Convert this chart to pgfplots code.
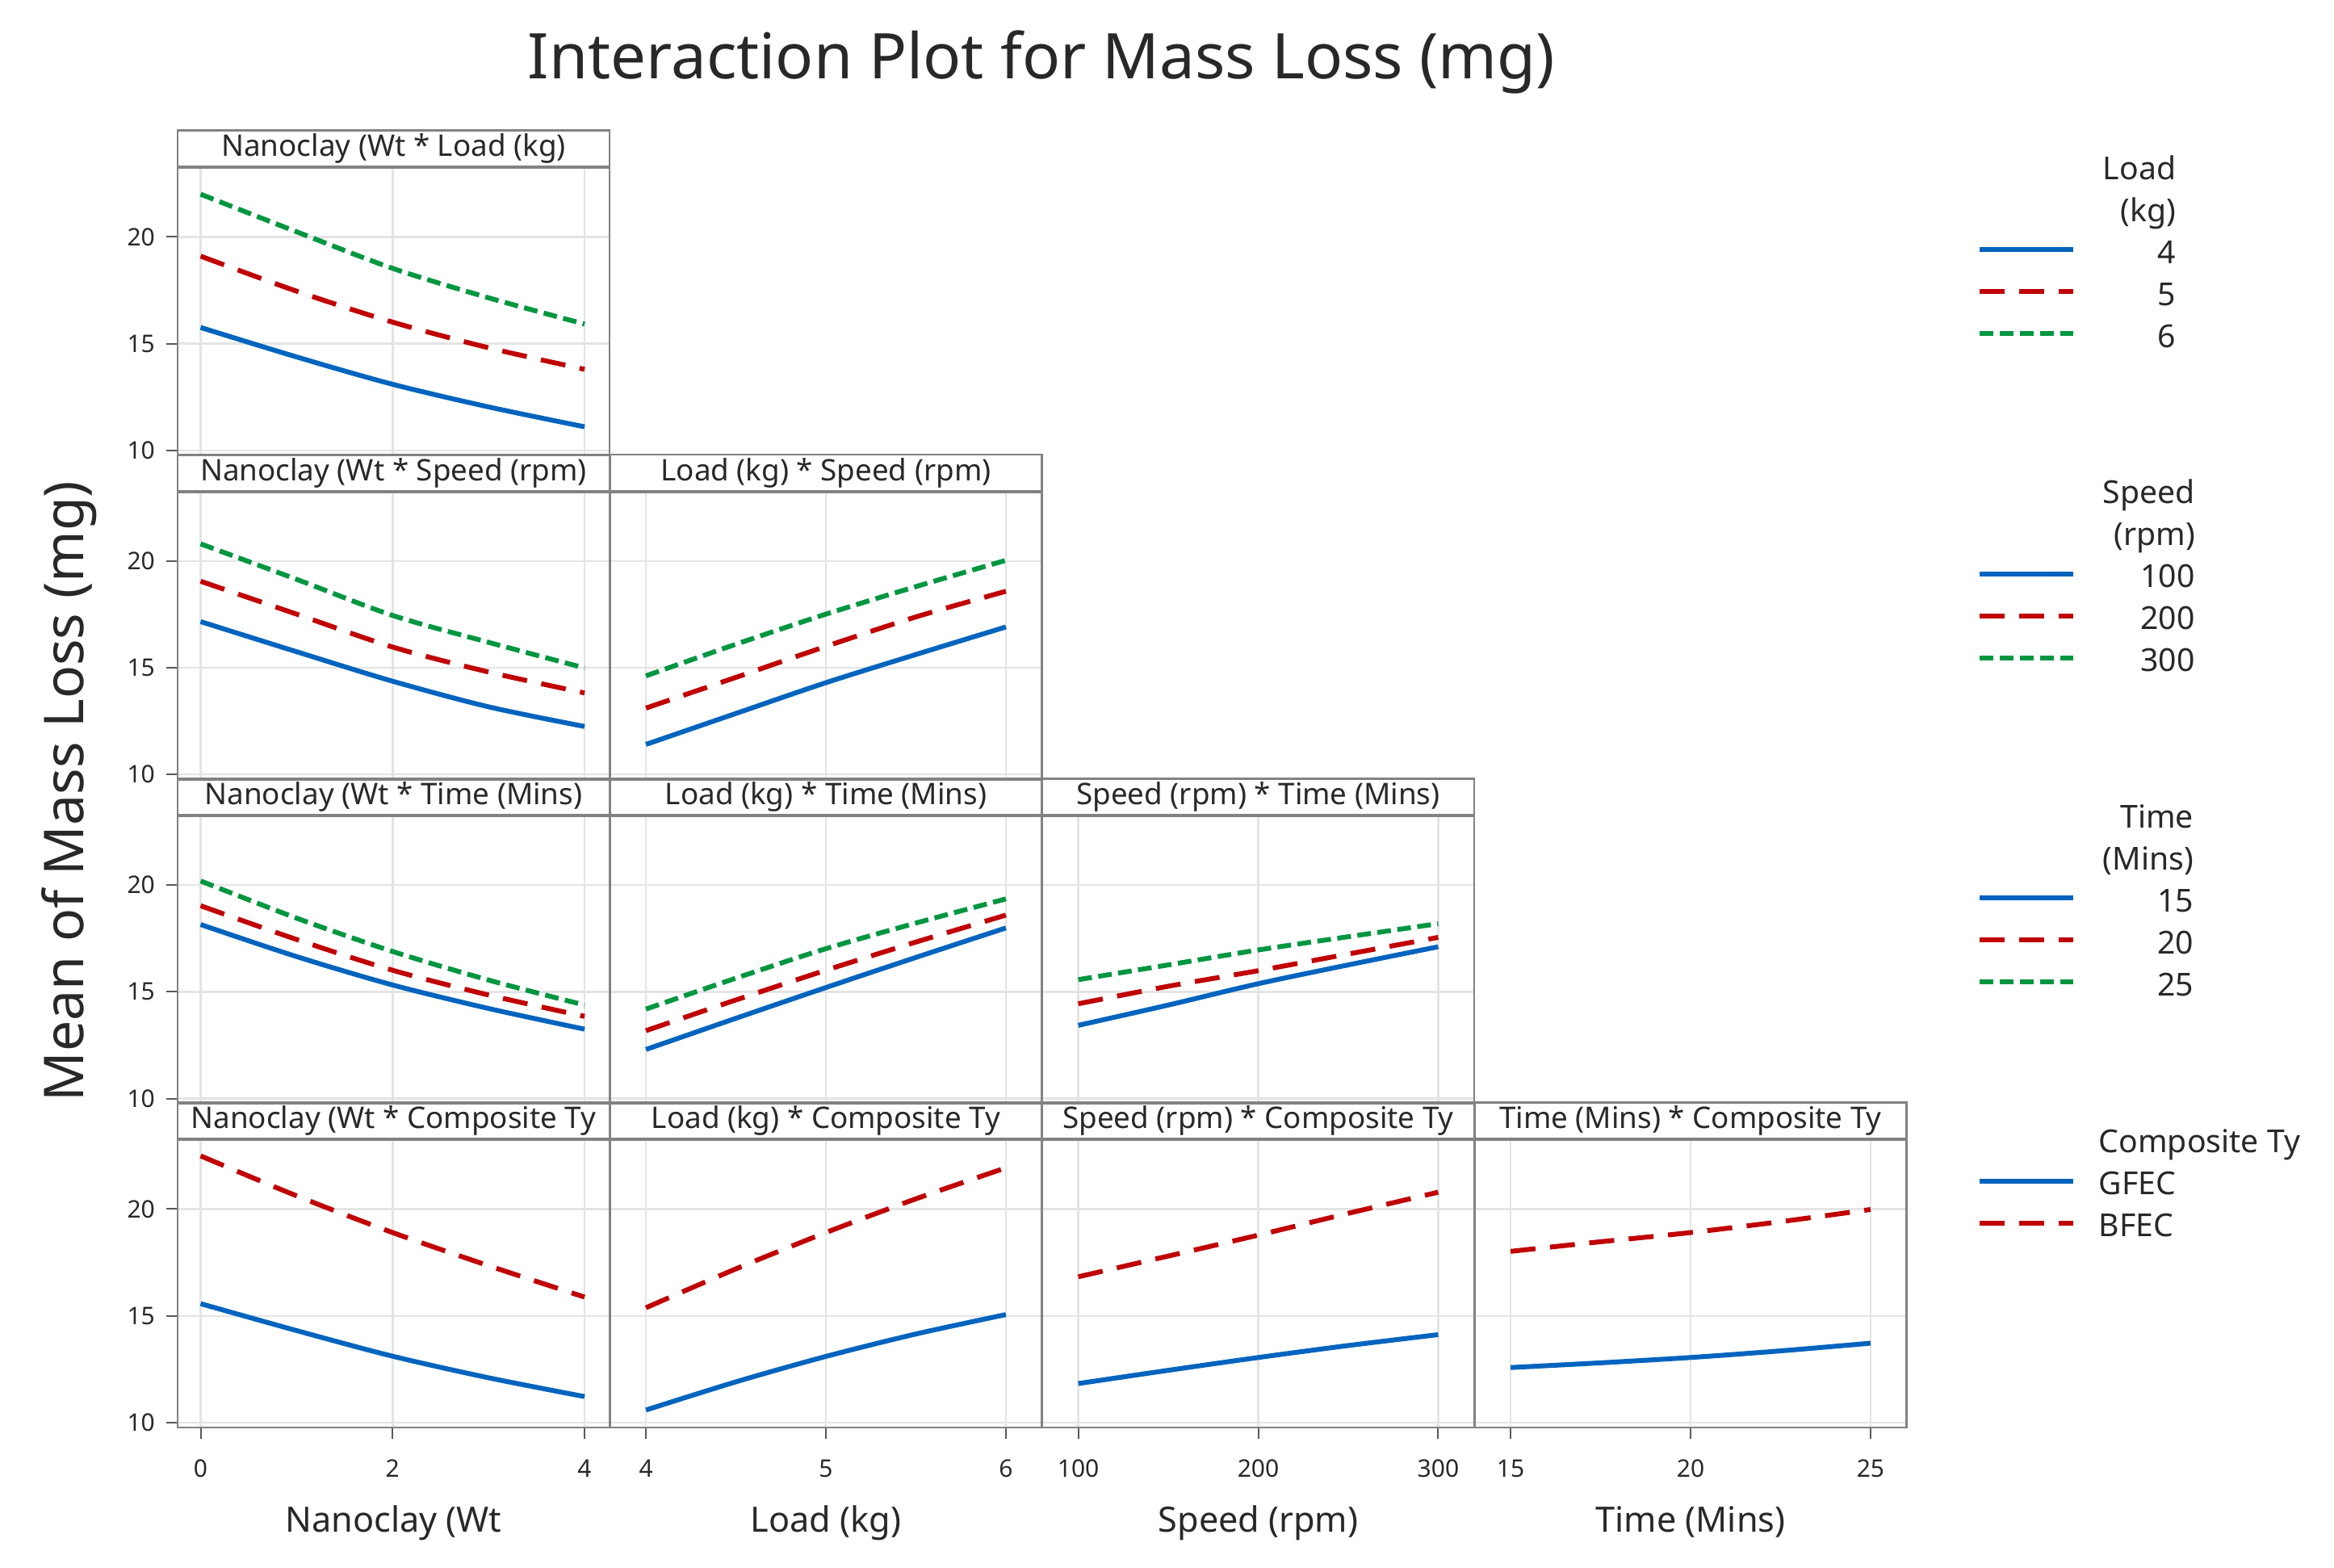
\documentclass[border=0pt]{standalone}
\usepackage{fontspec}
\setmainfont{Noto Sans}
\usepackage{pgfplots}
\pgfplotsset{compat=1.18}
\definecolor{mblue}{RGB}{0,100,190}
\definecolor{mred}{RGB}{192,0,0}
\definecolor{mgreen}{RGB}{0,150,64}
\definecolor{framegray}{RGB}{130,130,130}
\definecolor{gridgray}{RGB}{228,228,228}
\definecolor{txt}{RGB}{40,40,40}

\pgfplotsset{
  panel/.style={
    scale only axis, width=133.75pt, height=89pt,
    ymin=9.77, ymax=23.23, ytick={10,15,20},
    grid=major, major grid style={draw=gridgray, line width=0.6pt},
    axis line style={draw=framegray, line width=0.7pt},
    tick align=outside, tick pos=left,
    major tick length=3.5pt,
    every tick/.style={draw=black!65, line width=0.5pt},
    tick label style={font=\fontsize{7.5}{9}\selectfont, text=txt},
    x tick label style={yshift=-3pt},
    /pgf/number format/assume math mode=true,
    every axis title shift=0pt,
    title style={at={(0.5,1)}, anchor=south, yshift=0pt, draw=framegray, line width=0.7pt,
      minimum width=133.75pt, minimum height=11.25pt, inner sep=0pt,
      font=\fontsize{9.2}{11}\selectfont, text=txt},
    xlabel style={at={(axis description cs:0.5,0)}, anchor=base, yshift=-32.25pt,
      font=\fontsize{10.8}{13}\selectfont, text=txt},
    legend image code/.code={\draw[##1] (0pt,0.75pt) -- (29pt,0.75pt);},
  },
  c1/.style={xmin=-0.24, xmax=4.26, xtick={0,2,4}},
  c2/.style={xmin=3.8, xmax=6.2, xtick={4,5,6}},
  c3/.style={xmin=80, xmax=320, xtick={100,200,300}},
  c4/.style={xmin=14, xmax=26, xtick={15,20,25}},
  noxt/.style={xticklabels={}, xtick style={draw=none}},
  noyt/.style={yticklabels={}, ytick style={draw=none}},
  s1/.style={mblue, line width=1.5pt, solid, smooth},
  s2/.style={mred, line width=1.5pt, dash pattern=on 7.75pt off 4.5pt, smooth},
  s3/.style={mgreen, line width=1.5pt, dash pattern=on 4.25pt off 2pt, smooth},
  leg/.style={legend style={at={(0,1)}, anchor=north west, xshift=557pt, yshift=#1,
      draw=none, fill=none, inner sep=0pt, column sep=8.5pt, row sep=0pt,
      font=\fontsize{9.8}{12}\selectfont, text=txt,
      nodes={inner sep=0pt, text height=10pt, text depth=3pt}},
      legend cell align=right},
}

\begin{document}
\begin{tikzpicture}
\useasboundingbox (0pt,0pt) rectangle (722.75pt,-485.25pt);

\node[anchor=base, font=\fontsize{19.5}{23}\selectfont, text=txt] at (322.5pt,-24.25pt) {Interaction Plot for Mass Loss (mg)};
\node[rotate=90, anchor=base, font=\fontsize{17}{20}\selectfont, text=txt] at (25.75pt,-245pt) {Mean of Mass Loss (mg)};

% ---------------- Row 1 ----------------
\begin{axis}[panel, c1, noxt, leg=6.6pt, at={(55pt,-52pt)}, anchor=north west,
  title={Nanoclay (Wt * Load (kg)}]
\addlegendimage{empty legend}\addlegendentry{Load}
\addlegendimage{empty legend}\addlegendentry{(kg)}
\addplot[s1] coordinates {(0,15.76)(1,14.38)(2,13.10)(3,12.04)(4,11.11)};
\addlegendentry{4}
\addplot[s2] coordinates {(0,19.10)(1,17.46)(2,16.01)(3,14.81)(4,13.80)};
\addlegendentry{5}
\addplot[s3] coordinates {(0,22.00)(1,20.24)(2,18.53)(3,17.15)(4,15.92)};
\addlegendentry{6}
\end{axis}

% ---------------- Row 2 ----------------
\begin{axis}[panel, c1, noxt, leg=6.6pt, at={(55pt,-152.33pt)}, anchor=north west,
  title={Nanoclay (Wt * Speed (rpm)}]
\addlegendimage{empty legend}\addlegendentry{Speed}
\addlegendimage{empty legend}\addlegendentry{(rpm)}
\addplot[s1] coordinates {(0,17.16)(1,15.75)(2,14.37)(3,13.17)(4,12.25)};
\addlegendentry{100}
\addplot[s2] coordinates {(0,19.05)(1,17.51)(2,15.97)(3,14.80)(4,13.82)};
\addlegendentry{200}
\addplot[s3] coordinates {(0,20.80)(1,19.14)(2,17.45)(3,16.19)(4,14.99)};
\addlegendentry{300}
\end{axis}
\begin{axis}[panel, c2, noxt, noyt, at={(188.875pt,-152.33pt)}, anchor=north west,
  title={Load (kg) * Speed (rpm)}]
\addplot[s1] coordinates {(4,11.41)(4.5,12.86)(5,14.30)(5.5,15.62)(6,16.91)};
\addplot[s2] coordinates {(4,13.11)(4.5,14.55)(5,16.00)(5.5,17.38)(6,18.58)};
\addplot[s3] coordinates {(4,14.62)(4.5,16.10)(5,17.51)(5.5,18.80)(6,20.03)};
\end{axis}

% ---------------- Row 3 ----------------
\begin{axis}[panel, c1, noxt, leg=6.6pt, at={(55pt,-252.67pt)}, anchor=north west,
  title={Nanoclay (Wt * Time (Mins)}]
\addlegendimage{empty legend}\addlegendentry{Time}
\addlegendimage{empty legend}\addlegendentry{(Mins)}
\addplot[s1] coordinates {(0,18.15)(1,16.65)(2,15.32)(3,14.22)(4,13.25)};
\addlegendentry{15}
\addplot[s2] coordinates {(0,19.03)(1,17.45)(2,16.01)(3,14.85)(4,13.85)};
\addlegendentry{20}
\addplot[s3] coordinates {(0,20.19)(1,18.45)(2,16.89)(3,15.55)(4,14.38)};
\addlegendentry{25}
\end{axis}
\begin{axis}[panel, c2, noxt, noyt, at={(188.875pt,-252.67pt)}, anchor=north west,
  title={Load (kg) * Time (Mins)}]
\addplot[s1] coordinates {(4,12.30)(4.5,13.76)(5,15.20)(5.5,16.61)(6,17.99)};
\addplot[s2] coordinates {(4,13.18)(4.5,14.62)(5,16.01)(5.5,17.33)(6,18.59)};
\addplot[s3] coordinates {(4,14.19)(4.5,15.64)(5,17.02)(5.5,18.22)(6,19.35)};
\end{axis}
\begin{axis}[panel, c3, noxt, noyt, at={(322.75pt,-252.67pt)}, anchor=north west,
  title={Speed (rpm) * Time (Mins)}]
\addplot[s1] coordinates {(100,13.43)(150,14.38)(200,15.38)(250,16.26)(300,17.11)};
\addplot[s2] coordinates {(100,14.44)(150,15.26)(200,15.99)(250,16.77)(300,17.55)};
\addplot[s3] coordinates {(100,15.57)(150,16.26)(200,16.96)(250,17.58)(300,18.19)};
\end{axis}

% ---------------- Row 4 ----------------
\begin{axis}[panel, c1, leg=6.25pt, legend style={column sep=7.25pt}, legend cell align=left,
  at={(55pt,-353pt)}, anchor=north west,
  title={Nanoclay (Wt * Composite Ty}, xlabel={Nanoclay (Wt}]
\addlegendimage{empty legend}\addlegendentry{Composite Ty}
\addplot[s1] coordinates {(0,15.57)(1,14.31)(2,13.11)(3,12.10)(4,11.22)};
\addlegendentry{GFEC}
\addplot[s2] coordinates {(0,22.49)(1,20.62)(2,18.90)(3,17.35)(4,15.88)};
\addlegendentry{BFEC}
\end{axis}
\begin{axis}[panel, c2, noyt, at={(188.875pt,-353pt)}, anchor=north west,
  title={Load (kg) * Composite Ty}, xlabel={Load (kg)}]
\addplot[s1] coordinates {(4,10.59)(4.5,11.91)(5,13.10)(5.5,14.15)(6,15.06)};
\addplot[s2] coordinates {(4,15.38)(4.5,17.20)(5,18.90)(5.5,20.48)(6,21.93)};
\end{axis}
\begin{axis}[panel, c3, noyt, at={(322.75pt,-353pt)}, anchor=north west,
  title={Speed (rpm) * Composite Ty}, xlabel={Speed (rpm)}]
\addplot[s1] coordinates {(100,11.83)(150,12.45)(200,13.05)(250,13.61)(300,14.12)};
\addplot[s2] coordinates {(100,16.83)(150,17.80)(200,18.78)(250,19.80)(300,20.79)};
\end{axis}
\begin{axis}[panel, c4, noyt, at={(456.625pt,-353pt)}, anchor=north west,
  title={Time (Mins) * Composite Ty}, xlabel={Time (Mins)}]
\addplot[s1] coordinates {(15,12.58)(17.5,12.80)(20,13.05)(22.5,13.36)(25,13.72)};
\addplot[s2] coordinates {(15,18.02)(17.5,18.47)(20,18.90)(22.5,19.41)(25,19.98)};
\end{axis}
\end{tikzpicture}
\end{document}
